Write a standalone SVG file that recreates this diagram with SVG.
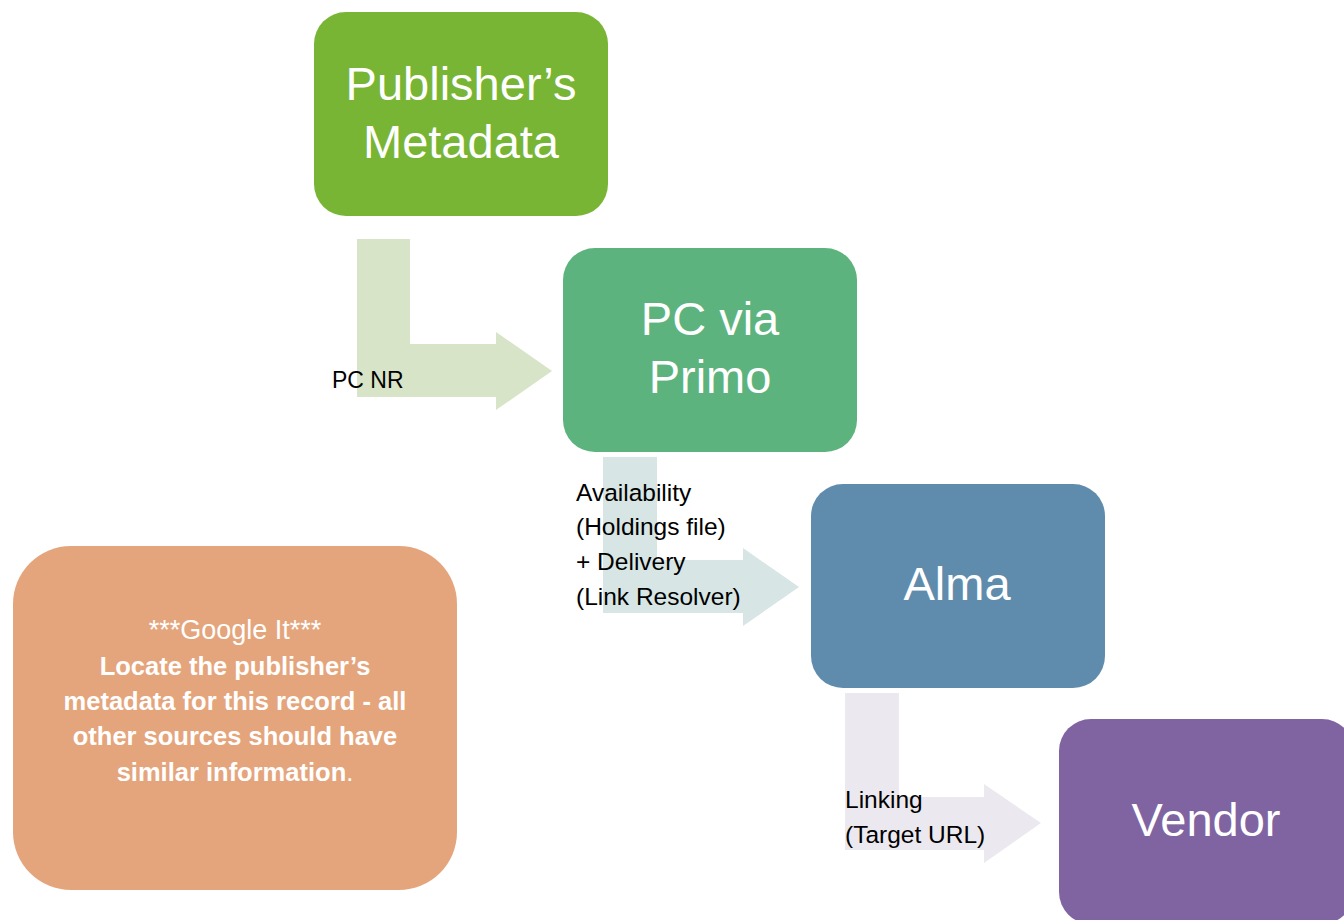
<svg xmlns="http://www.w3.org/2000/svg" width="1344" height="920" viewBox="0 0 1344 920">
<style>
.node-label{font-family:"Liberation Sans",Arial,sans-serif;font-size:47px;fill:#ffffff;text-anchor:middle}
.conn-label{font-family:"Liberation Sans",Arial,sans-serif;font-size:24.5px;fill:#000000}
.note{font-family:"Liberation Sans",Arial,sans-serif;font-size:25.5px;fill:#ffffff;text-anchor:middle}
.bold{font-weight:bold}
</style>
<rect width="1344" height="920" fill="#ffffff"/>
<g id="connectors">
<path id="arrow-pub-pc" d="M357,239 H410 V344 H496 V332 L552,371 L496,410 V397 H357 Z" fill="#d7e4c8"/>
<path id="arrow-pc-alma" d="M603,457 H657 V560 H743 V548 L799,587 L743,626 V613 H603 Z" fill="#d7e6e4"/>
<path id="arrow-alma-vendor" d="M845,693 H899 V797 H984 V784 L1041,823 L984,863 V850 H845 Z" fill="#ebe9ef"/>
<text class="conn-label" x="332" y="388" style="font-size:23px">PC NR</text>
<text class="conn-label" x="576" y="501">Availability</text>
<text class="conn-label" x="576" y="535">(Holdings file)</text>
<text class="conn-label" x="576" y="570">+ Delivery</text>
<text class="conn-label" x="576" y="605">(Link Resolver)</text>
<text class="conn-label" x="845" y="808">Linking</text>
<text class="conn-label" x="845" y="843">(Target URL)</text>
</g>
<g id="node-publisher">
<rect x="314" y="12" width="294" height="204" rx="32" fill="#78b535"/>
<text class="node-label" x="461" y="100">Publisher’s</text>
<text class="node-label" x="461" y="158">Metadata</text>
</g>
<g id="node-pc">
<rect x="563" y="248" width="294" height="204" rx="32" fill="#5db37e"/>
<text class="node-label" x="710" y="335">PC via</text>
<text class="node-label" x="710" y="393">Primo</text>
</g>
<g id="node-alma">
<rect x="811" y="484" width="294" height="204" rx="32" fill="#5f8cad"/>
<text class="node-label" x="957" y="600">Alma</text>
</g>
<g id="node-vendor">
<rect x="1059" y="719" width="295" height="205" rx="32" fill="#8064a2"/>
<text class="node-label" x="1206" y="836">Vendor</text>
</g>
<g id="node-google">
<rect x="13" y="546" width="444" height="344" rx="58" fill="#e5a57c"/>
<text class="note" x="235" y="639" style="font-size:27px">***Google It***</text>
<text class="note bold" x="235" y="675">Locate the publisher’s</text>
<text class="note bold" x="235" y="710">metadata for this record - all</text>
<text class="note bold" x="235" y="745">other sources should have</text>
<text class="note" x="235" y="781"><tspan class="bold">similar information</tspan>.</text>
</g>
</svg>
